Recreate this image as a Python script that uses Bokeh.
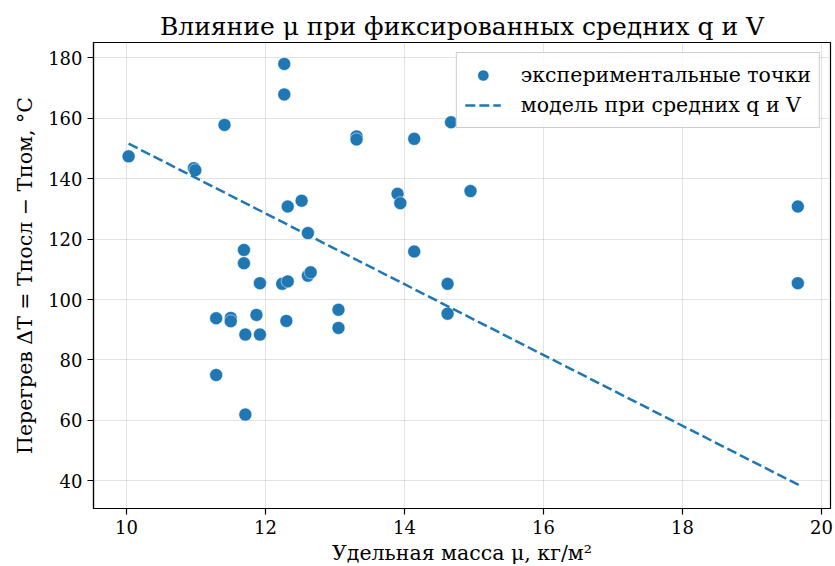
from bokeh.plotting import figure
from bokeh.models import FixedTicker, Range1d, Legend, LegendItem
from bokeh.embed import file_html
from bokeh.resources import INLINE

mu = [10.03, 10.97, 10.99, 11.41, 12.27, 12.27, 13.31, 13.31, 14.14, 14.67,
      12.32, 12.52, 12.61, 13.90, 13.94, 14.95, 11.69, 11.69, 14.14, 11.92,
      12.24, 12.32, 12.61, 12.65, 14.62, 14.62, 11.29, 11.50, 11.50, 11.87,
      11.71, 11.92, 12.30, 13.05, 13.05, 11.29, 11.71, 19.66, 19.66]
dT = [147.4, 143.5, 142.8, 157.8, 178.0, 167.9, 154.0, 153.0, 153.2, 158.7,
      130.8, 132.7, 122.0, 135.0, 131.9, 135.9, 116.4, 112.0, 115.9, 105.4,
      105.2, 106.0, 107.9, 109.0, 105.2, 95.3, 93.8, 93.9, 92.8, 94.9,
      88.4, 88.4, 92.9, 96.6, 90.6, 75.0, 61.9, 130.8, 105.4]
model_mu = [10.03, 19.68]
model_dT = [151.6, 38.5]

x_ticks = [10, 12, 14, 16, 18, 20]
y_ticks = [40, 60, 80, 100, 120, 140, 160, 180]

FONT = "DejaVu Serif"
BLUE = "#1f77b4"

p = figure(output_backend="svg", toolbar_location=None,
           frame_width=737, frame_height=466,
           min_border_left=93, min_border_top=42, min_border_right=5, min_border_bottom=56,
           x_range=Range1d(9.525, 20.13), y_range=Range1d(30.8, 185.1),
           title="Влияние μ при фиксированных средних q и V")

p.title.text_font = FONT
p.title.text_font_size = "25px"
p.title.text_font_style = "normal"
p.title.align = "center"
p.title.text_color = "#000000"
p.title.standoff = 4

p.outline_line_color = "black"
p.outline_line_width = 1.2
p.outline_line_alpha = 1

for ax in (p.xaxis[0], p.yaxis[0]):
    ax.axis_line_color = "black"
    ax.axis_line_width = 1.2
    ax.major_tick_line_color = "black"
    ax.major_tick_line_width = 1.2
    ax.major_tick_out = 6
    ax.major_tick_in = 0
    ax.minor_tick_line_color = None
    ax.major_label_text_font = FONT
    ax.major_label_text_font_size = "18px"
    ax.major_label_text_color = "#000000"
    ax.axis_label_text_font = FONT
    ax.axis_label_text_font_size = "20.5px"
    ax.axis_label_text_font_style = "normal"
    ax.axis_label_text_color = "#000000"

p.xaxis.ticker = FixedTicker(ticks=x_ticks)
p.yaxis.ticker = FixedTicker(ticks=y_ticks)
p.xaxis.axis_label = "Удельная масса μ, кг/м²"
p.yaxis.axis_label = "Перегрев ΔT = Tпосл − Tпом, °C"
p.xaxis.axis_label_standoff = 4
p.yaxis.axis_label_standoff = 8
p.xaxis.major_label_standoff = 5
p.yaxis.major_label_standoff = 5

p.xgrid.grid_line_color = "#b0b0b0"
p.ygrid.grid_line_color = "#b0b0b0"
p.xgrid.grid_line_alpha = 0.35
p.ygrid.grid_line_alpha = 0.35

r_pts = p.scatter(mu, dT, size=13, fill_color=BLUE, line_color="white", line_width=0.5)
r_line = p.line(model_mu, model_dT, line_color=BLUE, line_width=2.5, line_dash="10 4")

legend = Legend(items=[LegendItem(label="экспериментальные точки", renderers=[r_pts]),
                       LegendItem(label="модель при средних q и V", renderers=[r_line])],
                location="top_right")
legend.label_text_font = FONT
legend.label_text_font_size = "20.5px"
legend.label_text_color = "#000000"
legend.border_line_color = "#cccccc"
legend.border_line_alpha = 1
legend.background_fill_alpha = 0.85
legend.spacing = 2
legend.padding = 8
legend.margin = 10
legend.label_height = 28
legend.glyph_height = 28
legend.glyph_width = 36
legend.label_standoff = 20
p.add_layout(legend)

open("out.html", "w").write(file_html(p, INLINE))
